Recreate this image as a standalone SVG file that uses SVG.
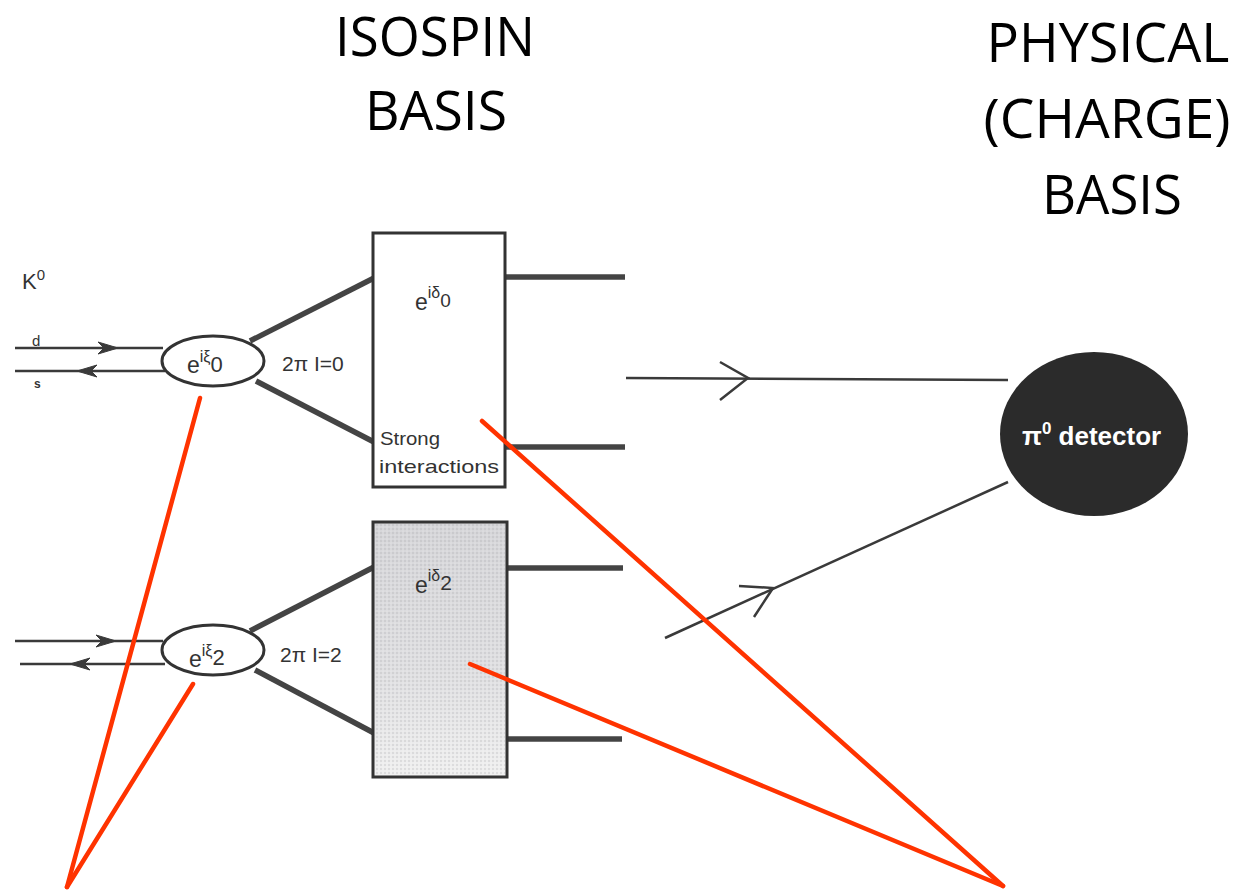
<svg xmlns="http://www.w3.org/2000/svg" width="1239" height="893" viewBox="0 0 1239 893">
<style>
.title{font-family:"Open Sans","Noto Sans","Liberation Sans",sans-serif;font-size:54px;fill:#000;text-anchor:middle}
.lbl{font-family:"Liberation Sans",Arial,sans-serif;fill:#333}
.thin{stroke:#3a3a3a;stroke-width:2.5;fill:none}
.thick{stroke:#444;stroke-width:5.5;fill:none;stroke-linecap:butt}
.box{stroke:#333;stroke-width:3}
.ell{fill:#fff;stroke:#333;stroke-width:3}
.red{stroke:#ff3300;stroke-width:4.5;fill:none;stroke-linecap:round}
.dart{fill:#3a3a3a;stroke:#3a3a3a;stroke-width:1}
</style>
<defs>
<linearGradient id="stip" x1="0" y1="0" x2="0" y2="1">
<stop offset="0" stop-color="#d6d6d9"/>
<stop offset="0.6" stop-color="#e0e0e2"/>
<stop offset="1" stop-color="#f0f0f0"/>
</linearGradient>
<pattern id="dots" width="4" height="4" patternUnits="userSpaceOnUse">
<rect width="4" height="4" fill="none"/>
<circle cx="1" cy="1" r="0.8" fill="#9a9aa0" opacity="0.5"/>
<circle cx="3" cy="3" r="0.6" fill="#fff" opacity="0.5"/>
</pattern>
</defs>
<rect width="1239" height="893" fill="#fff"/>

<g id="title-isospin">
<text class="title" x="435" y="56" font-size="52" textLength="200" lengthAdjust="spacingAndGlyphs">ISOSPIN</text>
<text class="title" x="436" y="130" textLength="142" lengthAdjust="spacingAndGlyphs">BASIS</text>
</g>
<g id="title-physical">
<text class="title" x="1108" y="62" textLength="243" lengthAdjust="spacingAndGlyphs">PHYSICAL</text>
<text class="title" x="1107" y="138" textLength="247" lengthAdjust="spacingAndGlyphs">(CHARGE)</text>
<text class="title" x="1112" y="214" textLength="140" lengthAdjust="spacingAndGlyphs">BASIS</text>
</g>

<g id="connectors">
<line class="thin" x1="15" y1="348" x2="163" y2="348"/>
<path class="dart" d="M98,342 L118,348 L98,354 L104,348 Z"/>
<line class="thin" x1="15" y1="371" x2="165" y2="371"/>
<path class="dart" d="M97,365 L77,371 L97,377 L91,371 Z"/>
<line class="thin" x1="15" y1="641" x2="163" y2="641"/>
<path class="dart" d="M96,635 L116,641 L96,647 L102,641 Z"/>
<line class="thin" x1="20" y1="664" x2="165" y2="664"/>
<path class="dart" d="M90,658 L70,664 L90,670 L84,664 Z"/>
<line class="thick" x1="250" y1="341" x2="374" y2="278"/>
<line class="thick" x1="256" y1="381" x2="374" y2="442"/>
<line class="thick" x1="250" y1="631" x2="374" y2="567"/>
<line class="thick" x1="255" y1="670" x2="374" y2="733"/>
<line class="thick" x1="505" y1="277" x2="625" y2="277"/>
<line class="thick" x1="505" y1="447" x2="625" y2="447"/>
<line class="thick" x1="507" y1="568" x2="623" y2="568"/>
<line class="thick" x1="507" y1="739" x2="622" y2="739"/>
<line class="thin" x1="626" y1="378" x2="1008" y2="380"/>
<polyline class="thin" points="720,362 748,378 720,400"/>
<line class="thin" x1="665" y1="638" x2="1008" y2="482"/>
<polyline class="thin" points="739,586 773,588 754,617"/>
</g>

<g id="k0-label">
<text class="lbl" x="22" y="289" font-size="22">K<tspan dy="-9" font-size="15">0</tspan></text>
<text class="lbl" x="32" y="346" font-size="15">d</text>
<text class="lbl" x="34" y="388" font-size="12" font-weight="bold">s</text>
</g>

<g id="phase-xi0">
<ellipse class="ell" cx="213" cy="361" rx="51" ry="25"/>
<text class="lbl" x="187" y="373" font-size="23">e<tspan dy="-11" font-size="16">iξ</tspan><tspan dy="10" font-size="22">0</tspan></text>
</g>
<g id="label-i0">
<text class="lbl" x="282" y="371" font-size="21">2π  I=0</text>
</g>

<g id="phase-xi2">
<ellipse class="ell" cx="213" cy="650" rx="51" ry="25"/>
<text class="lbl" x="189" y="667" font-size="23">e<tspan dy="-11" font-size="16">iξ</tspan><tspan dy="9" font-size="22">2</tspan></text>
</g>
<g id="label-i2">
<text class="lbl" x="280" y="662" font-size="21">2π  I=2</text>
</g>

<g id="box-strong-i0">
<rect class="box" x="373" y="233" width="132" height="254" fill="#fff"/>
<text class="lbl" x="415" y="310" font-size="23">e<tspan dy="-12" font-size="16">iδ</tspan><tspan dy="9" font-size="19">0</tspan></text>
<text class="lbl" x="380" y="445" font-size="19" textLength="60" lengthAdjust="spacingAndGlyphs">Strong</text>
<text class="lbl" x="379" y="473" font-size="19" textLength="120" lengthAdjust="spacingAndGlyphs">interactions</text>
</g>

<g id="box-strong-i2">
<rect class="box" x="373" y="522" width="134" height="255" fill="url(#stip)"/>
<rect x="375" y="524" width="130" height="251" fill="url(#dots)"/>
<text class="lbl" x="415" y="593" font-size="23">e<tspan dy="-12" font-size="16">iδ</tspan><tspan dy="9" font-size="21">2</tspan></text>
</g>

<g id="pi0-detector">
<ellipse cx="1094" cy="434" rx="94" ry="82" fill="#2b2b2b"/>
<text x="1022" y="445" font-family="Liberation Sans, Arial, sans-serif" font-weight="bold" font-size="26" fill="#fff">π<tspan dy="-11" font-size="17">0</tspan><tspan dy="11"> detector</tspan></text>
</g>

<g id="annotations">
<line class="red" x1="200" y1="398" x2="67" y2="887"/>
<line class="red" x1="193" y1="684" x2="67" y2="887"/>
<line class="red" x1="482" y1="421" x2="1003" y2="886"/>
<line class="red" x1="470" y1="664" x2="1003" y2="886"/>
</g>
</svg>
